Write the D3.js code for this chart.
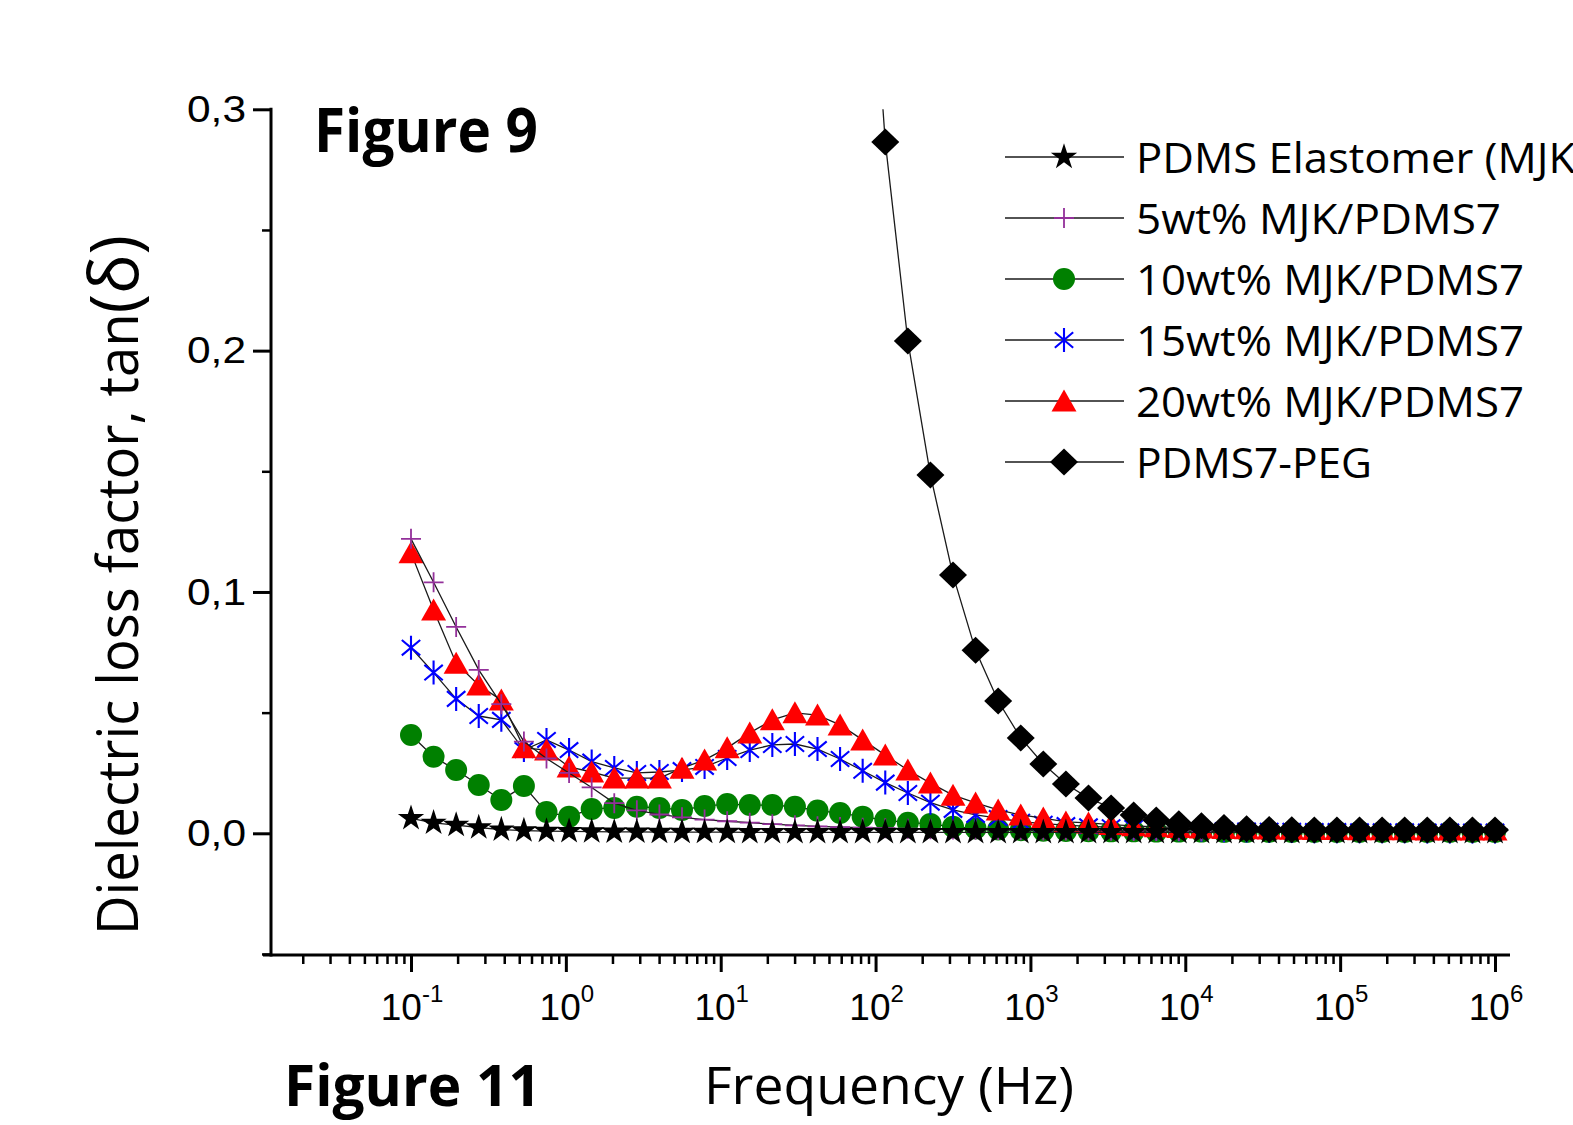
<!DOCTYPE html>
<html>
<head>
<meta charset="utf-8">
<script src="https://cdn.jsdelivr.net/npm/d3@7"></script>
<style>
  html, body { margin: 0; padding: 0; background: #fff; }
  svg { display: block; }
</style>
</head>
<body>
<div id="chart"></div>
<script>
// ---------------- DATA ----------------
const freq = [
  0.1, 0.1399, 0.1957, 0.2738, 0.3831, 0.5359, 0.7499, 1.049, 1.468, 2.054,
  2.873, 4.019, 5.623, 7.867, 11.01, 15.40, 21.54, 30.14, 42.17, 58.99,
  82.54, 115.5, 161.6, 226.0, 316.2, 442.4, 618.9, 865.9, 1211, 1695,
  2371, 3318, 4642, 6494, 9085, 12710, 17780, 24880, 34810, 48700,
  68130, 95320, 133400, 186600, 261000, 365200, 510900, 714800, 1000000
];
const pdmsElastomer = [
  0.0062, 0.0043, 0.0034, 0.0024, 0.0015, 0.0011, 0.0009, 0.0008, 0.0007, 0.0006,
  0.0006, 0.0005, 0.0005, 0.0005, 0.0005, 0.0004, 0.0004, 0.0004, 0.0004, 0.0004,
  0.0004, 0.0004, 0.0004, 0.0004, 0.0004, 0.0004, 0.0004, 0.0004, 0.0004, 0.0004,
  0.0004, 0.0004, 0.0004, 0.0004, 0.0004, 0.0004, 0.0004, 0.0004, 0.0004, 0.0004,
  0.0004, 0.0004, 0.0004, 0.0004, 0.0004, 0.0004, 0.0004, 0.0004, 0.0004
];
const wt5 = [
  0.122, 0.104, 0.0855, 0.0677, 0.0535, 0.038, 0.031, 0.025, 0.019, 0.0125,
  0.0095, 0.0078, 0.0066, 0.0057, 0.005, 0.0044, 0.0038, 0.0033, 0.0029, 0.0026,
  0.0023, 0.0021, 0.0019, 0.0017, 0.0016, 0.0015, 0.0014, 0.0013, 0.0012, 0.0012,
  0.0011, 0.0011, 0.0010, 0.0010, 0.0010, 0.0009, 0.0009, 0.0009, 0.0009, 0.0008,
  0.0008, 0.0008, 0.0008, 0.0008, 0.0008, 0.0008, 0.0008, 0.0008, 0.0008
];
const wt10 = [
  0.0407, 0.0317, 0.0262, 0.0200, 0.0138, 0.0196, 0.0088, 0.0069, 0.0101, 0.0105,
  0.0110, 0.0105, 0.0097, 0.0113, 0.0121, 0.0117, 0.0117, 0.0110, 0.0094, 0.0084,
  0.0069, 0.0055, 0.0044, 0.0039, 0.0027, 0.0020, 0.0016, 0.0013, 0.0011, 0.0010,
  0.0009, 0.0008, 0.0008, 0.0007, 0.0007, 0.0007, 0.0006, 0.0006, 0.0006, 0.0006,
  0.0006, 0.0006, 0.0006, 0.0006, 0.0006, 0.0006, 0.0006, 0.0006, 0.0006
];
const wt15 = [
  0.0769, 0.0666, 0.0557, 0.0486, 0.0470, 0.0345, 0.0387, 0.0345, 0.0297, 0.0271,
  0.0250, 0.0254, 0.0262, 0.0275, 0.0312, 0.0345, 0.0366, 0.0370, 0.0349, 0.0308,
  0.0259, 0.0210, 0.0167, 0.0127, 0.0097, 0.0076, 0.0063, 0.0048, 0.0040, 0.0034,
  0.0029, 0.0025, 0.0022, 0.0019, 0.0017, 0.0015, 0.0013, 0.0012, 0.0011, 0.0010,
  0.0009, 0.0009, 0.0008, 0.0008, 0.0008, 0.0007, 0.0007, 0.0007, 0.0007
];
const wt20 = [
  0.1162, 0.0925, 0.0705, 0.0614, 0.0552, 0.0354, 0.0345, 0.0275, 0.0254, 0.0229,
  0.0229, 0.0229, 0.0270, 0.0304, 0.0354, 0.0416, 0.0470, 0.0499, 0.0490, 0.0449,
  0.0387, 0.0324, 0.0262, 0.0208, 0.0158, 0.0126, 0.0097, 0.0076, 0.0063, 0.0047,
  0.0043, 0.0036, 0.0031, 0.0027, 0.0024, 0.0022, 0.0020, 0.0019, 0.0018, 0.0017,
  0.0016, 0.0016, 0.0015, 0.0015, 0.0015, 0.0014, 0.0014, 0.0014, 0.0014
];
const pdms7Peg = [
  null, null, null, null, null, null, null, null, null, null,
  null, null, null, null, null, null, null, null, null, null,
  0.42, 0.2865, 0.204, 0.1485, 0.107, 0.0758, 0.0548, 0.0395, 0.0287, 0.0204,
  0.0146, 0.0105, 0.0076, 0.0055, 0.0040, 0.0031, 0.0024, 0.0019, 0.0016, 0.0015,
  0.0014, 0.0014, 0.0014, 0.0014, 0.0014, 0.0014, 0.0014, 0.0014, 0.0014
];
const seriesNames = [
  "PDMS Elastomer (MJK)", "5wt% MJK/PDMS7", "10wt% MJK/PDMS7",
  "15wt% MJK/PDMS7", "20wt% MJK/PDMS7", "PDMS7-PEG"
];
const yTickValues = [0, 0.1, 0.2, 0.3];
const yTickLabels = ["0,0", "0,1", "0,2", "0,3"];
const yMinorValues = [-0.05, 0.05, 0.15, 0.25];
const xTickExponents = [-1, 0, 1, 2, 3, 4, 5, 6];
const xTitle = "Frequency (Hz)";
const yTitleMain = "Dielectric loss factor, tan";
const yTitleSym = "(δ)";
const fig9 = "Figure 9";
const fig11 = "Figure 11";

// ---------------- STYLE / LAYOUT ----------------
const W = 1573, H = 1125;
const axisX0 = 263, axisX1 = 1510, axisYx = 271, axisYtop = 109.3, axisXy = 955;

const series = [
  { name: seriesNames[0], values: pdmsElastomer, marker: "star",     color: "#000000" },
  { name: seriesNames[1], values: wt5,           marker: "cross",    color: "#93309a" },
  { name: seriesNames[2], values: wt10,          marker: "circle",   color: "#008000" },
  { name: seriesNames[3], values: wt15,          marker: "asterisk", color: "#0000ff" },
  { name: seriesNames[4], values: wt20,          marker: "triangle", color: "#ff0000" },
  { name: seriesNames[5], values: pdms7Peg,      marker: "diamond",  color: "#000000" }
];
const drawOrder = [2, 3, 4, 1, 0, 5];

const svg = d3.select("#chart").append("svg")
  .attr("width", W).attr("height", H)
  .attr("viewBox", `0 0 ${W} ${H}`);

const x = d3.scaleLog().domain([0.1, 1e6]).range([411, 1495]);
const y = d3.scaleLinear().domain([0, 0.3]).range([833.3, 109.3]);

// ---- marker paths ----
function markerPath(type) {
  switch (type) {
    case "star": return d3.symbol(d3.symbolStar, 215)();
    case "cross": return "M-10,0H10M0,-10V10";
    case "circle": return d3.symbol(d3.symbolCircle, Math.PI * 11 * 11)();
    case "asterisk": {
      const r = 12, a = 40 * Math.PI / 180;
      const dx = r * Math.cos(a), dy = r * Math.sin(a);
      return `M0,${-r}V${r}M${-dx},${-dy}L${dx},${dy}M${-dx},${dy}L${dx},${-dy}`;
    }
    case "triangle": return "M0,-11.5L12.5,10.5L-12.5,10.5Z";
    case "diamond": return "M0,-13.5L14,0L0,13.5L-14,0Z";
  }
}
function styleMarker(sel, s) {
  const stroked = (s.marker === "cross" || s.marker === "asterisk");
  sel.attr("d", markerPath(s.marker))
    .attr("fill", stroked ? "none" : s.color)
    .attr("stroke", stroked ? s.color : "none")
    .attr("stroke-width", stroked ? (s.marker === "asterisk" ? 2.1 : 1.8) : 0);
}

// ---- clip ----
svg.append("defs").append("clipPath").attr("id", "plotclip")
  .append("rect").attr("x", axisYx).attr("y", axisYtop)
  .attr("width", axisX1 - axisYx).attr("height", axisXy - axisYtop);

const plot = svg.append("g").attr("clip-path", "url(#plotclip)");

const line = d3.line()
  .defined(d => d.v !== null)
  .x(d => x(d.f)).y(d => y(d.v));

drawOrder.forEach(i => {
  const s = series[i];
  const pts = freq.map((f, k) => ({ f, v: s.values[k] }));
  const g = plot.append("g");
  g.append("path").datum(pts)
    .attr("d", line).attr("fill", "none")
    .attr("stroke", "#1a1a1a").attr("stroke-width", 1.3);
  g.selectAll("path.m").data(pts.filter(d => d.v !== null)).join("path")
    .attr("class", "m")
    .attr("transform", d => `translate(${x(d.f)},${y(d.v)})`)
    .call(sel => styleMarker(sel, s));
});

// ---- axes ----
const axG = svg.append("g");
const xMajor = xTickExponents.map(e => Math.pow(10, e));
const xMinor = [];
for (let e = -2; e <= 6; e++) for (let m = 2; m <= 9; m++) {
  const v = m * Math.pow(10, e);
  if (x(v) > axisYx + 2 && x(v) < axisX1) xMinor.push(v);
}
axG.append("g").attr("transform", `translate(0,${axisXy})`)
  .call(d3.axisBottom(x).tickValues(xMajor).tickSize(17).tickFormat(""))
  .call(g => g.select(".domain").remove())
  .call(g => g.selectAll(".tick line").attr("stroke", "#000").attr("stroke-width", 3));
axG.append("g").attr("transform", `translate(0,${axisXy})`)
  .call(d3.axisBottom(x).tickValues(xMinor).tickSize(9).tickFormat(""))
  .call(g => g.select(".domain").remove())
  .call(g => g.selectAll(".tick line").attr("stroke", "#000").attr("stroke-width", 2.5));

axG.append("g").attr("transform", `translate(${axisYx},0)`)
  .call(d3.axisLeft(y).tickValues(yTickValues).tickSize(18).tickPadding(7)
    .tickFormat((d, i) => yTickLabels[i]))
  .call(g => g.select(".domain").remove())
  .call(g => g.selectAll(".tick line").attr("stroke", "#000").attr("stroke-width", 3))
  .call(g => g.selectAll(".tick text")
    .attr("font-family", "'Liberation Sans', Arial, sans-serif")
    .attr("font-size", 37).attr("fill", "#000").attr("dy", "0.33em")
    .attr("textLength", 59).attr("lengthAdjust", "spacingAndGlyphs"));
axG.append("g").attr("transform", `translate(${axisYx},0)`)
  .call(d3.axisLeft(y).tickValues(yMinorValues).tickSize(9).tickFormat(""))
  .call(g => g.select(".domain").remove())
  .call(g => g.selectAll(".tick line").attr("stroke", "#000").attr("stroke-width", 2.5));

axG.append("line").attr("x1", axisYx).attr("x2", axisYx)
  .attr("y1", axisYtop - 1.5).attr("y2", axisXy + 1.5)
  .attr("stroke", "#000").attr("stroke-width", 3);
axG.append("line").attr("x1", axisX0).attr("x2", axisX1)
  .attr("y1", axisXy).attr("y2", axisXy)
  .attr("stroke", "#000").attr("stroke-width", 3);

const xl = axG.append("g")
  .attr("font-family", "'Liberation Sans', Arial, sans-serif").attr("fill", "#000");
xTickExponents.forEach(e => {
  const t = xl.append("text").attr("x", x(Math.pow(10, e)) + 1).attr("y", 1020)
    .attr("text-anchor", "middle").attr("font-size", 37);
  t.append("tspan").text("10");
  t.append("tspan").attr("dy", -18).attr("font-size", 24).text(String(e));
});

// ---- titles ----
svg.append("text").attr("x", 704).attr("y", 1104)
  .attr("font-family", "'Open Sans', sans-serif").attr("font-size", 51)
  .attr("textLength", 370).attr("lengthAdjust", "spacingAndGlyphs")
  .attr("fill", "#000").text(xTitle);

const yt = svg.append("text")
  .attr("transform", "translate(138,585) rotate(-90)")
  .attr("text-anchor", "middle")
  .attr("font-family", "'Open Sans', sans-serif").attr("font-size", 56)
  .attr("textLength", 700).attr("lengthAdjust", "spacingAndGlyphs")
  .attr("fill", "#000");
yt.append("tspan").text(yTitleMain);
yt.append("tspan").attr("font-size", 68).text(yTitleSym);

svg.append("text").attr("x", 314).attr("y", 151.5)
  .attr("font-family", "'Open Sans', sans-serif").attr("font-weight", 700)
  .attr("font-size", 60).attr("textLength", 224).attr("lengthAdjust", "spacingAndGlyphs")
  .attr("fill", "#000").text(fig9);

svg.append("text").attr("x", 284).attr("y", 1106)
  .attr("font-family", "'Open Sans', sans-serif").attr("font-weight", 700)
  .attr("font-size", 58).attr("textLength", 257).attr("lengthAdjust", "spacingAndGlyphs")
  .attr("fill", "#000").text(fig11);

// ---- legend ----
const legendRows = [157, 218, 279, 340, 401, 462];
const legendTextLen = [452, 365, 388, 388, 388, 236];
const lg = svg.append("g");
series.forEach((s, i) => {
  const yy = legendRows[i];
  lg.append("line").attr("x1", 1005).attr("x2", 1124).attr("y1", yy).attr("y2", yy)
    .attr("stroke", "#1a1a1a").attr("stroke-width", 1.3);
  lg.append("path").attr("transform", `translate(1064,${yy})`).call(sel => styleMarker(sel, s));
  lg.append("text").attr("x", 1136).attr("y", yy + 16)
    .attr("font-family", "'Open Sans', sans-serif").attr("font-size", 42)
    .attr("textLength", legendTextLen[i]).attr("lengthAdjust", "spacingAndGlyphs")
    .attr("fill", "#000").text(s.name);
});
</script>
</body>
</html>
